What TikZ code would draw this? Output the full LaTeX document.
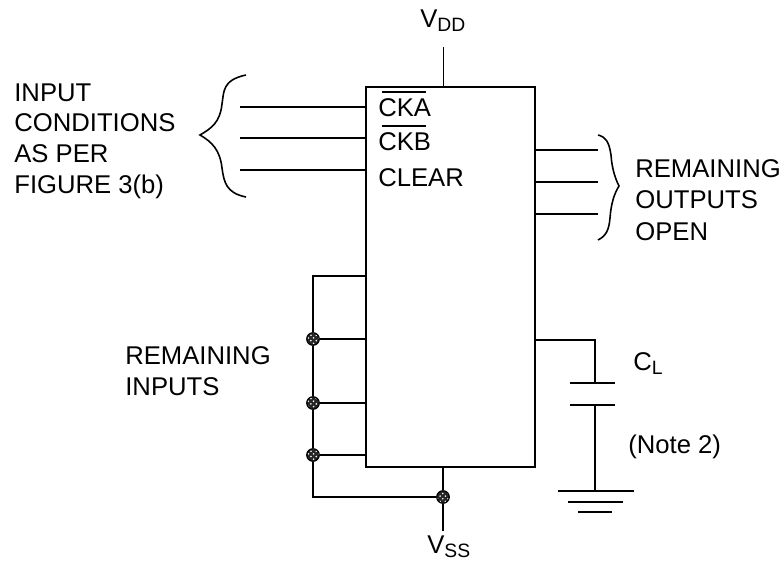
\documentclass[tikz,border=0pt]{standalone}
\usepackage{fontspec}
\usepackage{amsmath}
\usepackage{tikz}
\usetikzlibrary{patterns}
\setmainfont{Liberation Sans}
\newcommand{\lowsub}[1]{\raisebox{-0.3ex}{\fontsize{11pt}{11pt}\selectfont #1}}
\newcommand{\barlabel}[1]{\leavevmode\rlap{\hspace{0.08cm}\rule[0.47cm]{0.88cm}{0.8pt}}#1}
\tikzset{
  wire/.style={line width=0.9pt},
  brace/.style={line width=0.9pt},
  label/.style={inner sep=0pt,font=\fontsize{14.6pt}{17.4pt}\selectfont,align=left},
  joint/.style={circle,draw,preaction={fill=black!85},pattern=crosshatch dots,pattern color=white,inner sep=0pt,minimum size=0.25cm,line width=0.7pt}
}
\begin{document}
\begin{tikzpicture}[x=0.02cm,y=-0.02cm]
\useasboundingbox (0,0) rectangle (784,562);
\node[draw,rectangle,wire,outer sep=0pt,inner sep=0pt,minimum width=3.38cm,minimum height=7.6cm,anchor=north west] (chip) at (366,87) {};

\coordinate (vddend) at (443.5,47);
\coordinate (vddpin) at (443.5,87);
\coordinate (ckaend) at (240,107);
\coordinate (ckapin) at (366,107);
\coordinate (ckbend) at (240,138);
\coordinate (ckbpin) at (366,138);
\coordinate (clearend) at (240,170);
\coordinate (clearpin) at (366,170);
\coordinate (outaend) at (598,150);
\coordinate (outapin) at (535,150);
\coordinate (outbend) at (598,182);
\coordinate (outbpin) at (535,182);
\coordinate (outcend) at (598,214);
\coordinate (outcpin) at (535,214);

\node[label,anchor=base west] (vdd) at (420,27) {V\lowsub{DD}};
\node[label,anchor=base west] (cka) at (378,116) {\barlabel{CKA}};
\node[label,anchor=base west] (ckb) at (378,150) {\barlabel{CKB}};
\node[label,anchor=base west] (clear) at (378,186) {CLEAR};
\node[label,anchor=west] (inputs) at (14,141) {INPUT\\CONDITIONS\\AS PER\\FIGURE 3(b)};
\node[label,anchor=west] (outputs) at (635,200) {REMAINING\\[0.5pt]OUTPUTS\\[0.5pt]OPEN};
\node[label,anchor=west] (remaining) at (125,371) {REMAINING\\INPUTS};
\node[label,anchor=base west] (cl) at (633,370) {C\lowsub{L}};
\node[label,anchor=base west] (note) at (628,453) {(Note 2)};
\node[label,anchor=base west] (vss) at (427,553) {V\lowsub{SS}};

\draw[wire] (vddend) -- (vddpin);
\draw[wire] (ckaend) -- (ckapin);
\draw[wire] (ckbend) -- (ckbpin);
\draw[wire] (clearend) -- (clearpin);
\draw[wire] (outapin) -- (outaend);
\draw[wire] (outbpin) -- (outbend);
\draw[wire] (outcpin) -- (outcend);

\coordinate (bracea) at (246,75);
\coordinate (braceb) at (200,135);
\coordinate (bracec) at (246,197);
\draw[brace] (bracea) .. controls (222,80) and (224,92) .. (222,104) .. controls (220,122) and (212,128) .. (braceb) .. controls (212,142) and (220,150) .. (222,168) .. controls (224,182) and (226,193) .. (bracec);
\coordinate (braced) at (598,135);
\coordinate (bracee) at (619,186);
\coordinate (bracef) at (598,240);
\draw[brace] (braced) .. controls (606,137) and (609,142) .. (611,155) .. controls (612,170) and (616,180) .. (bracee) .. controls (614,194) and (611,204) .. (610,218) .. controls (609,230) and (606,236) .. (bracef);

\coordinate (bustop) at (313,276);
\coordinate (bustoppin) at (366,276);
\node[joint] (jointa) at (313,339) {};
\node[joint] (jointb) at (313,403) {};
\node[joint] (jointc) at (313,455) {};
\node[joint] (jointd) at (443,497) {};
\coordinate (pina) at (366,339);
\coordinate (pinb) at (366,403);
\coordinate (pinc) at (366,455);
\coordinate (busbottom) at (313,497);
\coordinate (vsspin) at (443,467);
\coordinate (vssend) at (443,531);

\draw[wire] (bustoppin) -- (bustop) -- (jointa);
\draw[wire] (jointa) -- (jointb);
\draw[wire] (jointb) -- (jointc);
\draw[wire] (jointc) -- (busbottom) -- (jointd);
\draw[wire] (jointa) -- (pina);
\draw[wire] (jointb) -- (pinb);
\draw[wire] (jointc) -- (pinc);
\draw[wire] (vsspin) -- (jointd);
\draw[wire] (jointd) -- (vssend);

\coordinate (loadpin) at (535,340);
\coordinate (loadbend) at (595,340);
\coordinate (platea) at (595,383);
\coordinate (plateb) at (595,405);
\coordinate (ground) at (595,491);
\draw[wire] (loadpin) -- (loadbend) -- (platea);
\draw[wire] (plateb) -- (ground);
\draw[wire] ([xshift=-0.5cm]platea) -- ([xshift=0.4cm]platea);
\draw[wire] ([xshift=-0.5cm]plateb) -- ([xshift=0.4cm]plateb);
\draw[wire] ([xshift=-0.74cm]ground) -- ([xshift=0.78cm]ground);
\draw[wire] ([xshift=-0.54cm,yshift=-0.22cm]ground) -- ([xshift=0.56cm,yshift=-0.22cm]ground);
\draw[wire] ([xshift=-0.34cm,yshift=-0.42cm]ground) -- ([xshift=0.34cm,yshift=-0.42cm]ground);
\end{tikzpicture}
\end{document}
